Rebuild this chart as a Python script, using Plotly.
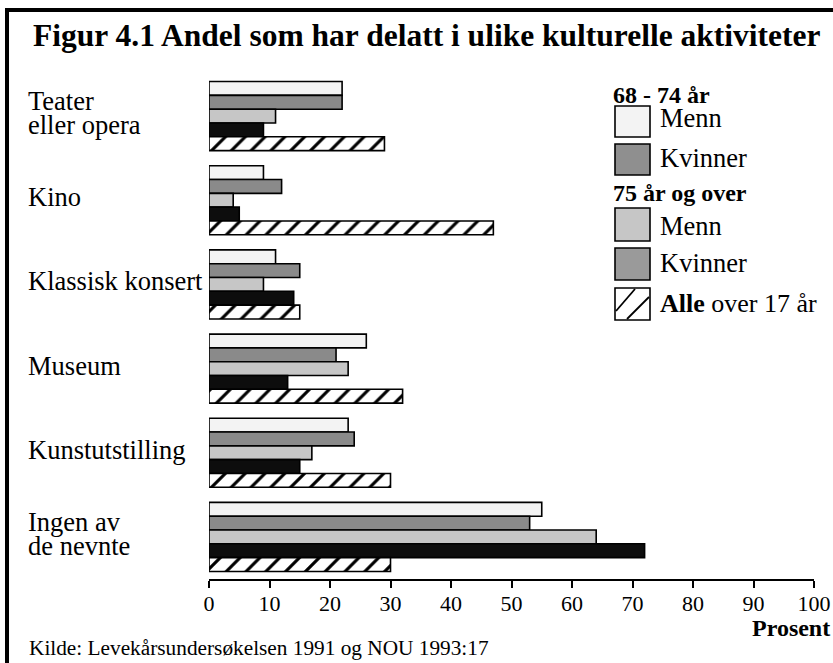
import plotly.graph_objects as go

# ---- data ----
categories = ["Teater<br>eller opera", "Kino", "Klassisk konsert", "Museum",
              "Kunstutstilling", "Ingen av<br>de nevnte"]
series_names = ["68 - 74 år Menn", "68 - 74 år Kvinner", "75 år og over Menn",
                "75 år og over Kvinner", "Alle over 17 år"]
menn_68_74 = [22, 9, 11, 26, 23, 55]
kvinner_68_74 = [22, 12, 15, 21, 24, 53]
menn_75 = [11, 4, 9, 23, 17, 64]
kvinner_75 = [9, 5, 14, 13, 15, 72]
alle_17 = [29, 47, 15, 32, 30, 30]
x_ticks = [0, 10, 20, 30, 40, 50, 60, 70, 80, 90, 100]

legend_groups = ["68 - 74 år", "75 år og over"]
legend_items = ["Menn", "Kvinner", "Menn", "Kvinner"]

W, H = 833, 663
L, R, T, B = 209, 19, 74, 84
PW, PH = W - L - R, H - T - B


def PX(x):
    return (x - L) / PW


def PY(y):
    return (H - B - y) / PH


FONT = "Liberation Serif"
fills = ["#f3f3f3", "#8a8a8a", "#c6c6c6", "#0d0d0d", "white"]
values = [menn_68_74, kvinner_68_74, menn_75, kvinner_75, alle_17]

fig = go.Figure()
for i, (name, vals) in enumerate(zip(series_names, values)):
    marker = dict(color=fills[i], line=dict(color="black", width=1.6))
    if i == 4:
        marker["pattern"] = dict(shape="/", fgcolor="black", bgcolor="white",
                                 size=14, solidity=0.22, fillmode="replace")
    fig.add_trace(go.Bar(y=list(range(len(categories))), x=vals, orientation="h",
                         name=name, marker=marker, showlegend=False))

fig.update_layout(
    width=W, height=H, autosize=False, showlegend=False,
    margin=dict(l=L, r=R, t=T, b=B, pad=0, autoexpand=False),
    plot_bgcolor="white", paper_bgcolor="white",
    barmode="group", bargap=0.18, bargroupgap=0,
    font=dict(family=FONT, color="black"),
    xaxis=dict(range=[0, 100], tickvals=x_ticks, ticktext=[str(v) for v in x_ticks],
               showline=True, linecolor="black", linewidth=1.6, automargin=False,
               ticks="outside", ticklen=7, tickwidth=1.6, tickcolor="black",
               ticklabelstandoff=-3,
               showgrid=False, zeroline=False,
               tickfont=dict(family=FONT, size=22, color="black")),
    yaxis=dict(range=[len(categories) - 0.5, -0.5], showticklabels=False,
               automargin=False,
               showgrid=False, zeroline=False, showline=False, ticks=""),
)

ann = []
# category labels (left aligned)
for i, c in enumerate(categories):
    lines = c.split("<br>")
    if len(lines) == 1:
        ann.append(dict(x=PX(26), xref="paper", y=i, yref="y", text=c,
                        xanchor="left", yanchor="middle", showarrow=False,
                        yshift=3, font=dict(size=26.5)))
    else:
        for j, ln in enumerate(lines):
            ann.append(dict(x=PX(26), xref="paper", y=i, yref="y", text=ln,
                            xanchor="left", yanchor="middle", showarrow=False,
                            yshift=15 - 24 * j, font=dict(size=26.5)))

# title
ann.append(dict(x=PX(31), y=PY(36), xref="paper", yref="paper", xanchor="left",
                yanchor="middle", showarrow=False,
                text="<b>Figur 4.1 Andel som har delatt i ulike kulturelle aktiviteter</b>",
                font=dict(size=31.5)))
# axis title
ann.append(dict(x=PX(832), y=PY(628), xref="paper", yref="paper", xanchor="right",
                yanchor="middle", showarrow=False, text="<b>Prosent</b>",
                font=dict(size=24)))
# source
ann.append(dict(x=PX(27), y=PY(648), xref="paper", yref="paper", xanchor="left",
                yanchor="middle", showarrow=False,
                text="Kilde: Levekårsundersøkelsen 1991 og NOU 1993:17",
                font=dict(size=21.3)))

# custom legend
shapes = []
box_x0, box_x1, text_x = 615, 650, 658
group_pos = [95, 193]
for g, yy in zip(legend_groups, group_pos):
    ann.append(dict(x=PX(611), y=PY(yy), xref="paper", yref="paper", xanchor="left",
                    yanchor="middle", showarrow=False, text=f"<b>{g}</b>",
                    font=dict(size=24)))
box_rows = [(106, 137), (144, 175), (208, 241), (248, 280)]
box_fills = ["#f3f3f3", "#8f8f8f", "#c6c6c6", "#9a9a9a"]
text_y = [118, 158, 226, 263]
for (y0, y1), fc, lbl, ty in zip(box_rows, box_fills, legend_items, text_y):
    shapes.append(dict(type="rect", xref="paper", yref="paper",
                       x0=PX(box_x0), x1=PX(box_x1), y0=PY(y1), y1=PY(y0),
                       fillcolor=fc, line=dict(color="black", width=1.6)))
    ann.append(dict(x=PX(text_x), y=PY(ty), xref="paper", yref="paper", xanchor="left",
                    yanchor="middle", showarrow=False, text=lbl, font=dict(size=26.5)))
# hatched legend box
shapes.append(dict(type="rect", xref="paper", yref="paper",
                   x0=PX(box_x0), x1=PX(box_x1), y0=PY(320), y1=PY(288),
                   fillcolor="white", line=dict(color="black", width=1.6)))
shapes.append(dict(type="line", xref="paper", yref="paper",
                   x0=PX(616), y0=PY(311), x1=PX(635), y1=PY(289),
                   line=dict(color="black", width=1.8)))
shapes.append(dict(type="line", xref="paper", yref="paper",
                   x0=PX(627), y0=PY(319), x1=PX(649), y1=PY(297),
                   line=dict(color="black", width=1.8)))
ann.append(dict(x=PX(text_x), y=PY(303), xref="paper", yref="paper", xanchor="left",
                yanchor="middle", showarrow=False, text="<b>Alle</b> over 17 år",
                font=dict(size=26)))

# frame
shapes.append(dict(type="line", xref="paper", yref="paper",
                   x0=PX(5), x1=PX(833), y0=PY(10), y1=PY(10),
                   line=dict(color="black", width=4)))
shapes.append(dict(type="line", xref="paper", yref="paper",
                   x0=PX(7), x1=PX(7), y0=PY(8), y1=PY(663),
                   line=dict(color="black", width=4)))

fig.update_layout(annotations=ann, shapes=shapes)
fig.write_html("out.html", config={"displayModeBar": False},
               post_script="document.body.style.margin='0px';"
                           "document.body.style.overflow='hidden';")
